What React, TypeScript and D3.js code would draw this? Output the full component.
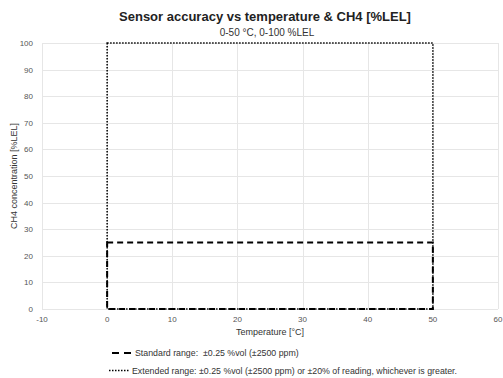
import { useRef, useEffect } from 'react';
import * as d3 from 'd3';

// chart values
const xTicks = [-10, 0, 10, 20, 30, 40, 50, 60];
const yTicks = [0, 10, 20, 30, 40, 50, 60, 70, 80, 90, 100];
const tempRange = [0, 50];
const standardMax = 25;
const extendedMax = 100;

const title = 'Sensor accuracy vs temperature & CH4 [%LEL]';
const subtitle = '0-50 °C, 0-100 %LEL';
const xTitle = 'Temperature [°C]';
const yTitle = 'CH4 concentration [%LEL]';
const legendItems = [
    { label: 'Standard range:  ±0.25 %vol (±2500 ppm)', dash: '7,5', width: 2 },
    {
        label: 'Extended range: ±0.25 %vol (±2500 ppm) or ±20% of reading, whichever is greater.',
        dash: '1.5,1.5',
        width: 1.5,
    },
];

const W = 503;
const H = 378;
const marginLeft = 42;
const marginRight = 5;
const marginTop = 43;
const marginBottom = 69;
const font = '"Liberation Sans", Arial, sans-serif';

export default function App() {
    const svgRef = useRef<SVGSVGElement | null>(null);

    useEffect(() => {
        if (!svgRef.current) return;
        const svg = d3.select(svgRef.current);
        svg.selectAll('*').remove();

        const x = d3.scaleLinear().domain([-10, 60]).range([marginLeft, W - marginRight]);
        const y = d3.scaleLinear().domain([0, 100]).range([H - marginBottom, marginTop]);

        // grid
        const grid = svg.append('g').attr('stroke', '#e6e6e6').attr('stroke-width', 1);
        grid.selectAll('line.h')
            .data(yTicks)
            .enter()
            .append('line')
            .attr('x1', x(-10))
            .attr('x2', x(60))
            .attr('y1', d => Math.round(y(d)) + 0.5)
            .attr('y2', d => Math.round(y(d)) + 0.5);
        grid.selectAll('line.v')
            .data(xTicks)
            .enter()
            .append('line')
            .attr('y1', y(0))
            .attr('y2', y(100))
            .attr('x1', d => Math.round(x(d)) + 0.5)
            .attr('x2', d => Math.round(x(d)) + 0.5);

        // tick labels
        svg.append('g')
            .selectAll('text')
            .data(yTicks)
            .enter()
            .append('text')
            .attr('x', marginLeft - 9)
            .attr('y', d => y(d) + 3)
            .attr('text-anchor', 'end')
            .attr('font-size', 8)
            .attr('fill', '#555')
            .attr('font-family', font)
            .text(d => d);

        svg.append('g')
            .selectAll('text')
            .data(xTicks)
            .enter()
            .append('text')
            .attr('x', d => x(d))
            .attr('y', y(0) + 13)
            .attr('text-anchor', 'middle')
            .attr('font-size', 8)
            .attr('fill', '#555')
            .attr('font-family', font)
            .text(d => d);

        // ranges
        const rangeRect = (top: number, dash: string, width: number) =>
            svg.append('rect')
                .attr('x', x(tempRange[0]))
                .attr('y', y(top))
                .attr('width', x(tempRange[1]) - x(tempRange[0]))
                .attr('height', y(0) - y(top))
                .attr('fill', 'none')
                .attr('stroke', '#000')
                .attr('stroke-width', width)
                .attr('stroke-dasharray', dash);

        rangeRect(standardMax, '6,4', legendItems[0].width);
        rangeRect(extendedMax, legendItems[1].dash, legendItems[1].width);

        // titles
        svg.append('text')
            .attr('x', 265)
            .attr('y', 21)
            .attr('text-anchor', 'middle')
            .attr('font-size', 13)
            .attr('font-weight', 'bold')
            .attr('font-family', font)
            .attr('fill', '#222')
            .text(title);

        svg.append('text')
            .attr('x', 267)
            .attr('y', 36)
            .attr('text-anchor', 'middle')
            .attr('font-size', 10)
            .attr('font-family', font)
            .attr('fill', '#333')
            .text(subtitle);

        svg.append('text')
            .attr('x', (x(-10) + x(60)) / 2)
            .attr('y', 335)
            .attr('text-anchor', 'middle')
            .attr('font-size', 9)
            .attr('font-family', font)
            .attr('fill', '#333')
            .text(xTitle);

        svg.append('text')
            .attr('transform', `translate(17,${(y(0) + y(100)) / 2}) rotate(-90)`)
            .attr('text-anchor', 'middle')
            .attr('font-size', 9)
            .attr('font-family', font)
            .attr('fill', '#333')
            .text(yTitle);

        // legend
        legendItems.forEach((item, i) => {
            const ly = 353 + i * 17.5;
            const x0 = i === 0 ? 112 : 109;
            svg.append('line')
                .attr('x1', x0)
                .attr('x2', x0 + 20)
                .attr('y1', ly)
                .attr('y2', ly)
                .attr('stroke', '#000')
                .attr('stroke-width', item.width)
                .attr('stroke-dasharray', item.dash);
            svg.append('text')
                .attr('x', x0 + 23)
                .attr('y', ly + 3)
                .attr('font-size', 8.8)
                .attr('font-family', font)
                .attr('fill', '#333')
                .style('white-space', 'pre')
                .text(item.label);
        });
    }, []);

    return (
        <svg
            ref={svgRef}
            width={W}
            height={H}
            style={{ background: 'white', display: 'block', position: 'absolute', left: 0, top: 0 }}
        ></svg>
    );
}
